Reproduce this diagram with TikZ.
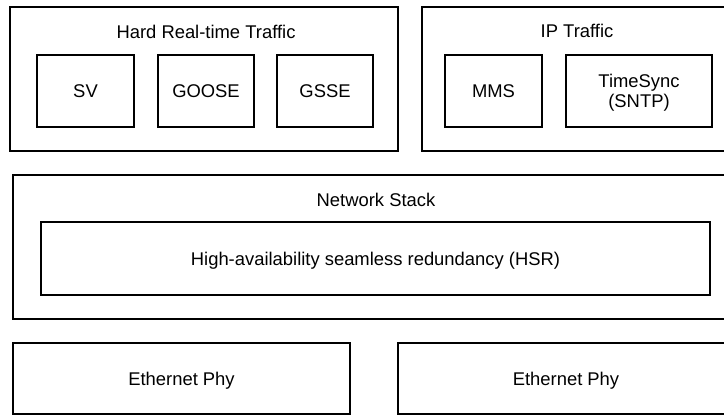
\documentclass[tikz,border=0pt]{standalone}
\usepackage{fontspec}
\setmainfont{Liberation Sans}
\begin{document}
\begin{tikzpicture}[x=1pt,y=1pt,
  every node/.style={font=\fontsize{18.4}{20.5}\selectfont},
  outerbox/.style={draw,line width=1.8pt,minimum height=144pt,inner sep=0pt},
  innerbox/.style={draw,line width=1.8pt,inner sep=0pt,text depth=0pt,align=center},
  lbl/.style={inner sep=0pt}]
\useasboundingbox (0,0) rectangle (724,-415);
\clip (0,0) rectangle (724,-415);
\fill[white] (0,0) rectangle (724,-415);
% top left group
\node[outerbox,minimum width=388pt] (hard) at (204,-79) {};
\node[lbl] (hardt) at (206,-32) {Hard Real-time Traffic};
\node[innerbox,minimum width=97pt,minimum height=72pt] (sv) at (85.5,-91) {SV};
\node[innerbox,minimum width=96pt,minimum height=72pt] (goose) at (206,-91) {GOOSE};
\node[innerbox,minimum width=96pt,minimum height=72pt] (gsse) at (325,-91) {GSSE};
% top right group
\node[outerbox,minimum width=312pt] (ip) at (578,-79) {};
\node[lbl] (ipt) at (577,-31) {IP Traffic};
\node[innerbox,minimum width=97pt,minimum height=72pt] (mms) at (493.5,-91) {MMS};
\node[innerbox,minimum width=146pt,minimum height=72pt] (ts) at (639,-91) {TimeSync\\(SNTP)};
% network stack
\node[outerbox,minimum width=725pt] (net) at (375.5,-247) {};
\node[lbl] (nett) at (376,-200) {Network Stack};
\node[innerbox,minimum width=669pt,minimum height=73pt] (hsr) at (375.5,-258.5) {High-availability seamless redundancy (HSR)};
% phys
\node[innerbox,minimum width=337pt,minimum height=71pt] (eth1) at (181.5,-378.5) {Ethernet Phy};
\node[innerbox,minimum width=336pt,minimum height=71pt] (eth2) at (566,-378.5) {Ethernet Phy};
\end{tikzpicture}
\end{document}
